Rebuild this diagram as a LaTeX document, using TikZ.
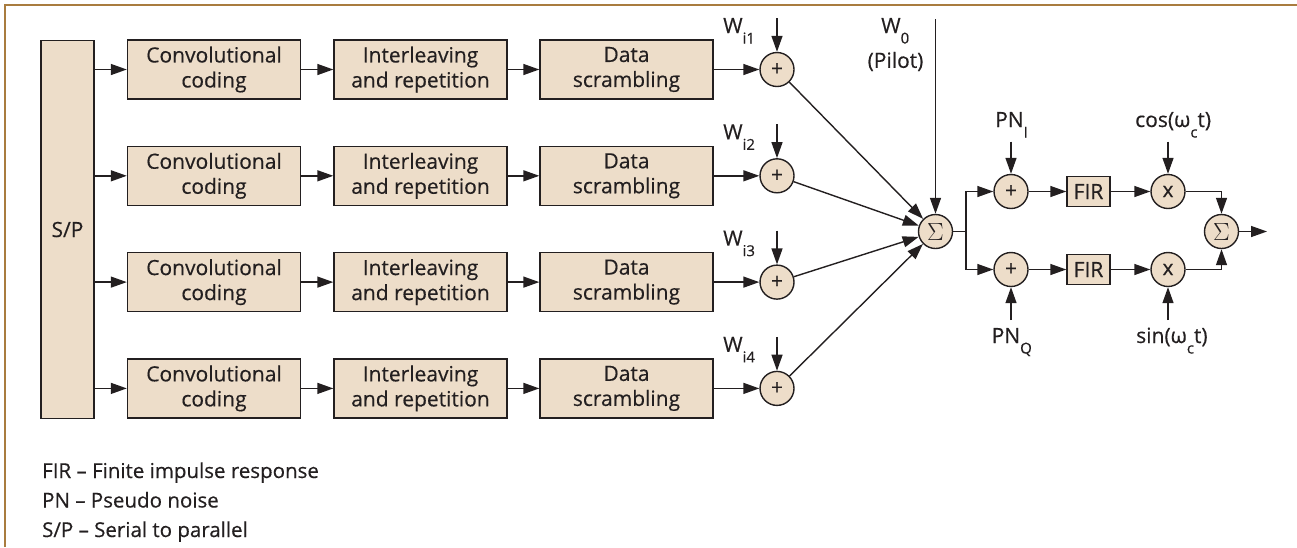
\documentclass[tikz,border=0pt]{standalone}
\usepackage{fontspec}
\setmainfont{Open Sans}[FakeBold=0.4]
\usetikzlibrary{arrows.meta}
\definecolor{boxfill}{RGB}{237,221,201}
\definecolor{framec}{RGB}{169,124,63}
\definecolor{ink}{RGB}{35,31,32}
\newcommand\lowsub[1]{\raisebox{-0.5em}{\fontsize{15}{15}\selectfont #1}}
\begin{document}
\begin{tikzpicture}[x=1pt,y=-1pt,
  every node/.style={font=\fontsize{21}{25}\selectfont, text=ink},
  blk/.style={draw=ink, fill=boxfill, line width=1.4pt, minimum width=173pt, minimum height=59pt, align=center, inner sep=0pt},
  sumc/.style={circle, draw=ink, fill=boxfill, line width=1.4pt, minimum size=34pt, inner sep=0pt},
  arr/.style={-{Triangle[length=16pt,width=11pt]}, line width=1.4pt, draw=ink},
  ln/.style={line width=1.4pt, draw=ink},
  lbl/.style={inner sep=0pt},
  sigtxt/.style={font=\fontsize{24}{24}\selectfont},
  legend/.style={inner sep=0pt, anchor=base west, font=\fontsize{20.5}{24}\selectfont}]
\useasboundingbox (0,0) rectangle (1297,547);
% frame
\draw[framec, line width=1.5pt] (5,547) -- (5,5) -- (1297,5);
% S/P
\node[blk, minimum width=53pt, minimum height=378pt] (sp) at (67.5,229.5) {S/P};
% Sigma main
\node[sumc, sigtxt] (sig) at (935.5,231.5) {$\Sigma$};
% rows
\foreach \i/\y in {1/69.5,2/175.8,3/282.1,4/388.4}{
  \node[blk] (cc\i) at (214,\y) {Convolutional\\coding};
  \node[blk] (ir\i) at (420.5,\y) {Interleaving\\and repetition};
  \node[blk] (ds\i) at (626.5,\y) {Data\\scrambling};
  \node[sumc] (p\i) at (777,\y) {+};
  \coordinate (w\i) at (777,\y-51.5);
  \node[lbl, anchor=base west] (wl\i) at (723,\y-36.5) {W\lowsub{i\i}};
  \draw[arr] (sp.east |- cc\i) -- (cc\i);
  \draw[arr] (cc\i) -- (ir\i);
  \draw[arr] (ir\i) -- (ds\i);
  \draw[arr] (ds\i) -- (p\i);
  \draw[arr] (w\i) -- (p\i);
  \draw[arr] (p\i) -- (sig);
}
% pilot
\coordinate (w0) at (935.5,19);
\node[lbl, anchor=base west] (w0l) at (881,33) {W\lowsub{0}};
\node[lbl] (pil) at (895.5,61.5) {(Pilot)};
\draw[arr] (w0) -- (sig);
% right part
\coordinate (split) at (966,231.5);
\node[sumc] (pi) at (1011,191.5) {+};
\node[sumc] (pq) at (1011,269.5) {+};
\node[blk, minimum width=43pt, minimum height=30pt] (fi) at (1088.5,191.5) {FIR};
\node[blk, minimum width=43pt, minimum height=30pt] (fq) at (1088.5,269.5) {FIR};
\node[sumc] (mi) at (1168,191.5) {x};
\node[sumc] (mq) at (1168,269.5) {x};
\node[sumc, sigtxt] (sig2) at (1221.5,231.5) {$\Sigma$};
\coordinate (out) at (1267,231.5);
\draw[ln] (sig.east) -- (split);
\draw[arr] (split) |- (pi);
\draw[arr] (split) |- (pq);
\draw[arr] (pi) -- (fi);
\draw[arr] (pq) -- (fq);
\draw[arr] (fi) -- (mi);
\draw[arr] (fq) -- (mq);
\draw[arr] (mi) -| (sig2);
\draw[arr] (mq) -| (sig2);
\draw[arr] (sig2) -- (out);
% inputs
\coordinate (pnin) at (1011,141.5);
\coordinate (cosin) at (1168,141.5);
\coordinate (pnqin) at (1011,320);
\coordinate (sinin) at (1168,320);
\draw[arr] (pnin) -- (pi);
\draw[arr] (cosin) -- (mi);
\draw[arr] (pnqin) -- (pq);
\draw[arr] (sinin) -- (mq);
\node[lbl, anchor=base west] (pnil) at (995,127) {PN\lowsub{I}};
\node[lbl, anchor=base west] (cosl) at (1135,127) {cos(ω\lowsub{c}t)};
\node[lbl, anchor=base west] (pnql) at (991.5,343) {PN\lowsub{Q}};
\node[lbl, anchor=base west] (sinl) at (1136,343) {sin(ω\lowsub{c}t)};
% legend
\node[legend] (lg1) at (42,478) {FIR – Finite impulse response};
\node[legend] (lg2) at (42,507.5) {PN – Pseudo noise};
\node[legend] (lg3) at (42,537) {S/P – Serial to parallel};
\end{tikzpicture}
\end{document}
